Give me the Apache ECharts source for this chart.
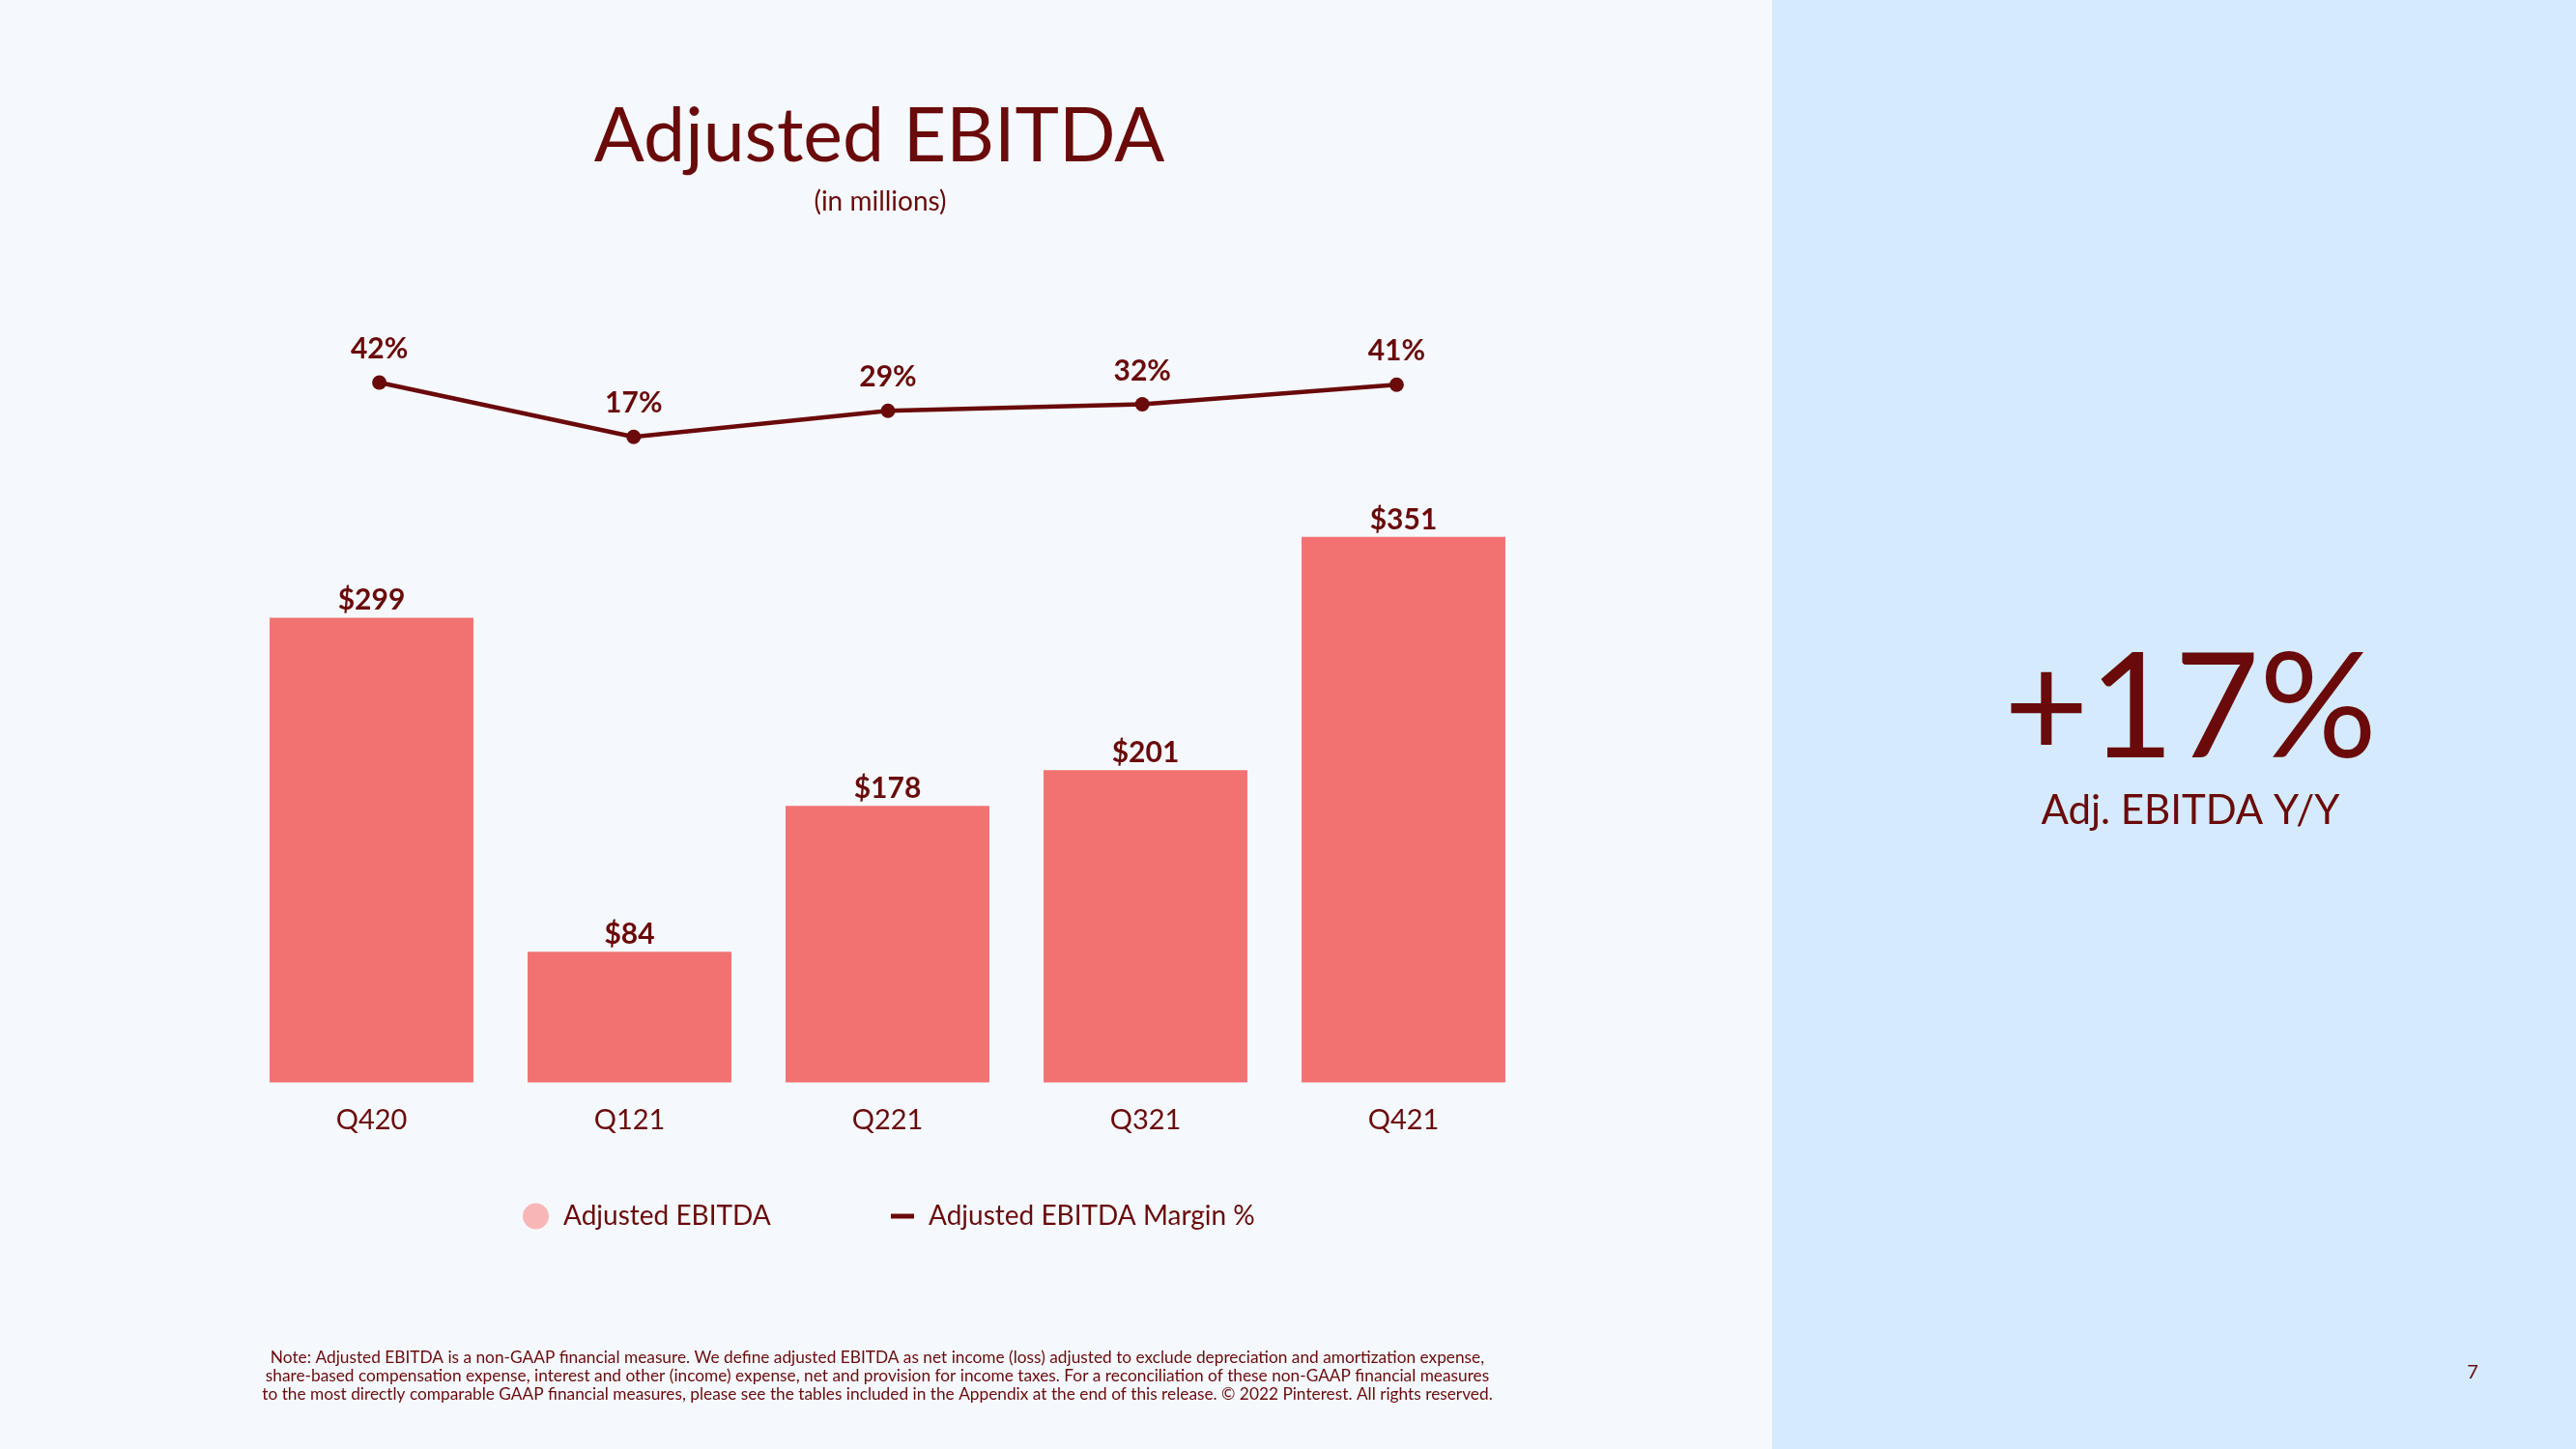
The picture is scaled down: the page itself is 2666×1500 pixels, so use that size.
<!DOCTYPE html>
<html>
<head>
<meta charset="utf-8">
<script src="https://cdn.jsdelivr.net/npm/echarts@6/dist/echarts.min.js"></script>
<style>
html,body{margin:0;padding:0;background:#f5f9fe;}
#chart{width:2666px;height:1500px;}
</style>
</head>
<body>
<div id="chart"></div>
<script>
const categories = ['Q420', 'Q121', 'Q221', 'Q321', 'Q421'];
const ebitdaValues = [299, 84, 178, 201, 351];
const marginValues = [42, 17, 29, 32, 41];
const titleText = 'Adjusted EBITDA';
const subtitleText = '(in millions)';
const seriesNames = ['Adjusted EBITDA', 'Adjusted EBITDA Margin %'];
const highlightValue = '+17%';
const highlightLabel = 'Adj. EBITDA Y/Y';
const pageNumber = '7';
const noteLines = [
  'Note: Adjusted EBITDA is a non-GAAP financial measure. We define adjusted EBITDA as net income (loss) adjusted to exclude depreciation and amortization expense,',
  'share-based compensation expense, interest and other (income) expense, net and provision for income taxes. For a reconciliation of these non-GAAP financial measures',
  'to the most directly comparable GAAP financial measures, please see the tables included in the Appendix at the end of this release. \u00A9 2022 Pinterest. All rights reserved.'
];

const DARK = '#6a0a0a';
const BAR = '#f27272';
const FONT = 'Lato, "Noto Sans", sans-serif';

const chart = echarts.init(document.getElementById('chart'), null, {renderer: 'canvas'});
chart.setOption({
  backgroundColor: '#f5f9fe',
  textStyle: {fontFamily: FONT, color: DARK},
  animation: false,
  title: [
    {text: titleText, left: 905, top: 99, textAlign: 'center',
     textStyle: {fontFamily: FONT, fontSize: 77, fontWeight: 'normal', color: DARK}},
    {text: subtitleText, left: 906, top: 190, textAlign: 'center',
     textStyle: {fontFamily: FONT, fontSize: 28, fontWeight: 'normal', color: DARK}}
  ],
  graphic: [
    {type: 'rect', left: 1834, top: 0, shape: {width: 832, height: 1500}, style: {fill: '#d5eafd'}, z: -10},
    {type: 'text', x: 2267, y: 735, style: {text: highlightValue, align: 'center', verticalAlign: 'middle',
      font: 'normal 152px ' + FONT, fill: DARK}},
    {type: 'text', x: 2267, y: 839, style: {text: highlightLabel, align: 'center', verticalAlign: 'middle',
      font: 'normal 42px ' + FONT, fill: DARK}},
    {type: 'text', x: 2559, y: 1421, style: {text: pageNumber, align: 'center', verticalAlign: 'middle',
      font: 'normal 20px ' + FONT, fill: DARK}},
    {type: 'text', x: 908, y: 1424, style: {text: noteLines.join('\n'), align: 'center', verticalAlign: 'middle',
      font: 'normal 17.3px ' + FONT, lineHeight: 19, fill: DARK}}
  ],
  legend: [
    {data: [{name: seriesNames[0], icon: 'circle', itemStyle: {color: '#f9b6b6'}}],
     left: 536, top: 1240, orient: 'horizontal', itemWidth: 27, itemHeight: 27, itemGap: 20,
     textStyle: {fontFamily: FONT, fontSize: 28, color: DARK, padding: [0, 0, 0, 10]}, selectedMode: false},
    {data: [{name: seriesNames[1], icon: 'rect', itemStyle: {color: DARK}}],
     left: 917, top: 1240, orient: 'horizontal', itemWidth: 24, itemHeight: 5,
     textStyle: {fontFamily: FONT, fontSize: 28, color: DARK, padding: [0, 0, 0, 10]}, selectedMode: false}
  ],
  grid: [
    {left: 251, width: 1335, top: 477, bottom: 379.5, containLabel: false},
    {left: 261, width: 1316, top: 378, bottom: 1009.5, containLabel: false}
  ],
  xAxis: [
    {type: 'category', gridIndex: 0, data: categories,
     axisLine: {show: false}, axisTick: {show: false},
     axisLabel: {fontFamily: FONT, fontSize: 29, color: DARK, margin: 25}},
    {type: 'category', gridIndex: 1, data: categories, show: false}
  ],
  yAxis: [
    {type: 'value', gridIndex: 0, min: 0, max: 400, show: false, splitLine: {show: false}},
    {type: 'value', gridIndex: 1, min: 0, max: 50, show: false, splitLine: {show: false}}
  ],
  series: [
    {name: seriesNames[0], type: 'bar', xAxisIndex: 0, yAxisIndex: 0, data: ebitdaValues,
     barWidth: '79%', itemStyle: {color: BAR},
     label: {show: true, position: 'top', distance: 3, formatter: p => '$' + p.value,
       fontFamily: FONT, fontSize: 30, fontWeight: 'bold', color: DARK}},
    {name: seriesNames[1], type: 'line', xAxisIndex: 1, yAxisIndex: 1, data: marginValues,
     symbol: 'circle', symbolSize: 15, lineStyle: {color: DARK, width: 4.5}, itemStyle: {color: DARK},
     label: {show: true, position: 'top', distance: 12, formatter: p => p.value + '%',
       fontFamily: FONT, fontSize: 30, fontWeight: 'bold', color: DARK}}
  ]
});
</script>
</body>
</html>
